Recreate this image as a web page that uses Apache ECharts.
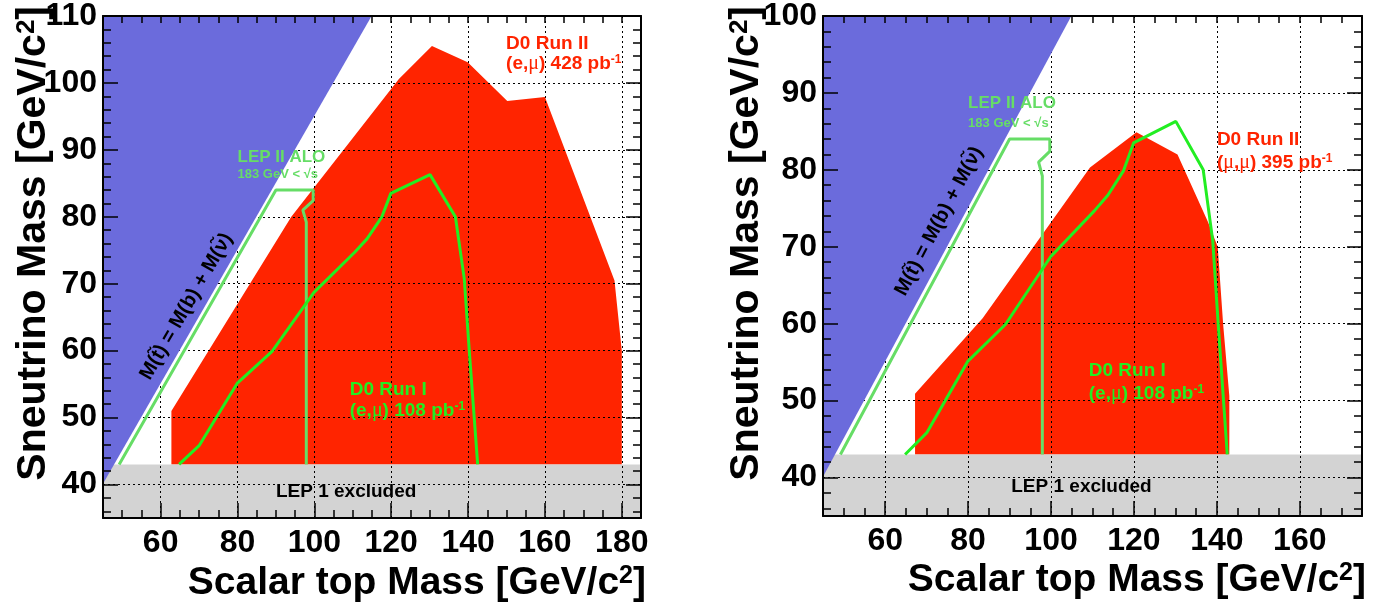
<!DOCTYPE html>
<html>
<head>
<meta charset="utf-8">
<title>Scalar top / sneutrino exclusion</title>
<script src="https://cdn.jsdelivr.net/npm/echarts@6/dist/echarts.min.js"></script>
<style>
  html, body { margin: 0; padding: 0; background: #fff; }
  #chart { width: 1382px; height: 608px; }
</style>
</head>
<body>
<div id="chart"></div>
<script>
// axis ranges per panel [left, right]
const massRange = [[45, 185], [45, 175]];
const snuRange = [[35, 110], [35, 100]];

// kinematic limit M(t) = M(b) + M(snu), forbidden region
const kinMassL = [45, 45, 114.9];
const kinSnuL = [40.1, 110, 110];
const kinMassR = [45, 45, 104.9];
const kinSnuR = [40.1, 100, 100];

// LEP 1 excluded band
const lep1Snu = [35, 43];

// D0 Run II (e,mu) 428 pb-1
const run2EmuMass = [62.8, 62.8, 94, 122, 130.6, 139.9, 150.2, 160, 178.1, 180, 180];
const run2EmuSnu = [43, 51, 80, 100.6, 105.5, 103.1, 97.3, 97.9, 70.5, 60, 43];

// D0 Run II (mu,mu) 395 pb-1
const run2MumuMass = [67.2, 67.2, 83.5, 109.4, 120.6, 130.5, 137.8, 140.2, 141.5, 143, 143];
const run2MumuSnu = [43, 50.9, 60.7, 80.3, 84.9, 82.0, 73.3, 70, 60, 50.6, 43];

// D0 Run I (e,mu) 108 pb-1
const run1Mass = [64.8, 70, 79.9, 89, 99.9, 110.5, 113.7, 117.5, 119.9, 130.1, 136.7, 139, 140.4, 142.5];
const run1Snu = [43, 45.8, 55.1, 59.9, 68.7, 74.7, 76.7, 79.9, 83.5, 86.3, 80, 70.8, 59.3, 43];

// LEP II ALO
const lep2Mass = [49.2, 90, 99.7, 99.7, 97, 97.9, 97.9];
const lep2Snu = [43, 84, 84, 82.4, 81, 79.2, 43];

const RED = '#ff2400';
const BLUE = '#6b6bdc';
const GREY = '#d3d3d3';
const LEPGREEN = '#66dd66';
const GREEN = '#22ee22';
const FONT = '"Liberation Sans", Arial, sans-serif';

const chart = echarts.init(document.getElementById('chart'));

const pairs = (xs, ys) => xs.map((x, i) => [x, ys[i]]);

function polygon(g, xs, ys, color, z) {
  return {
    type: 'custom', xAxisIndex: g * 3, yAxisIndex: g * 3, z, silent: true,
    data: [[xs[0], ys[0]]],
    renderItem: (params, api) => ({
      type: 'polygon',
      shape: { points: xs.map((x, i) => api.coord([x, ys[i]])) },
      style: { fill: color }
    })
  };
}

function line(g, xs, ys, color) {
  return {
    type: 'line', xAxisIndex: g * 3, yAxisIndex: g * 3, z: 5, silent: true,
    data: pairs(xs, ys), symbol: 'none',
    lineStyle: { color, width: 3 }
  };
}

const tickStyle = { color: '#000', width: 1.5 };
const labelStyle = { fontSize: 32, fontWeight: 'bold', fontFamily: FONT, color: '#000' };

function xAxes(g) {
  const [min, max] = massRange[g];
  const base = { type: 'value', gridIndex: g, min, max, minInterval: 20, maxInterval: 20 };
  return [
    { ...base, position: 'bottom', z: 6,
      axisLine: { onZero: false, lineStyle: { color: '#000', width: 2 } },
      axisTick: { inside: true, length: 15, lineStyle: tickStyle },
      minorTick: { show: true, splitNumber: 4, length: 8, lineStyle: tickStyle },
      axisLabel: { ...labelStyle, margin: 9, showMinLabel: false, showMaxLabel: false },
      splitLine: { show: false } },
    { ...base, position: 'top', z: 6,
      axisLine: { onZero: false, lineStyle: { color: '#000', width: 2 } },
      axisTick: { inside: true, length: 7, lineStyle: tickStyle },
      minorTick: { show: true, splitNumber: 4, length: 7, lineStyle: tickStyle },
      axisLabel: { show: false }, splitLine: { show: false } },
    { ...base, position: 'bottom', z: 3,
      axisLine: { show: false }, axisTick: { show: false }, axisLabel: { show: false },
      splitLine: { show: true, lineStyle: { color: '#000', width: 1, type: [2, 3] } } }
  ];
}

function yAxes(g) {
  const [min, max] = snuRange[g];
  const base = { type: 'value', gridIndex: g, min, max, minInterval: 10, maxInterval: 10 };
  return [
    { ...base, position: 'left', z: 6,
      axisLine: { onZero: false, lineStyle: { color: '#000', width: 2 } },
      axisTick: { inside: true, length: 15, lineStyle: tickStyle },
      minorTick: { show: true, splitNumber: 5, length: 8, lineStyle: tickStyle },
      axisLabel: { ...labelStyle, margin: 6, padding: [8, 0, 0, 0], showMinLabel: false, showMaxLabel: true },
      splitLine: { show: false } },
    { ...base, position: 'right', z: 6,
      axisLine: { onZero: false, lineStyle: { color: '#000', width: 2 } },
      axisTick: { inside: true, length: 15, lineStyle: tickStyle },
      minorTick: { show: true, splitNumber: 5, length: 8, lineStyle: tickStyle },
      axisLabel: { show: false }, splitLine: { show: false } },
    { ...base, position: 'left', z: 3,
      axisLine: { show: false }, axisTick: { show: false }, axisLabel: { show: false },
      splitLine: { show: true, lineStyle: { color: '#000', width: 1, type: [2, 3] } } }
  ];
}

function panelSeries(g, kinMass, kinSnu, run2Mass, run2Snu) {
  const [m0, m1] = massRange[g];
  return [
    polygon(g, run2Mass, run2Snu, RED, 1),
    polygon(g, [m0, m1, m1, m0], [lep1Snu[0], lep1Snu[0], lep1Snu[1], lep1Snu[1]], GREY, 1),
    polygon(g, kinMass, kinSnu, BLUE, 4),
    line(g, lep2Mass, lep2Snu, LEPGREEN),
    line(g, run1Mass, run1Snu, GREEN)
  ];
}

chart.setOption({
  animation: false,
  backgroundColor: '#fff',
  grid: [
    { left: 103, top: 15, width: 538, height: 503 },
    { left: 823, top: 14, width: 539, height: 502 }
  ],
  xAxis: [...xAxes(0), ...xAxes(1)],
  yAxis: [...yAxes(0), ...yAxes(1)],
  series: [
    ...panelSeries(0, kinMassL, kinSnuL, run2EmuMass, run2EmuSnu),
    ...panelSeries(1, kinMassR, kinSnuR, run2MumuMass, run2MumuSnu)
  ]
});

// text annotations, anchored in data coordinates (left x, baseline y)
const redRich = {
  mu: { fontFamily: '"Liberation Serif", serif', fontWeight: 'normal', fontSize: 20, color: RED },
  sup: { fontSize: 12, fontWeight: 'bold', verticalAlign: 'top', color: RED }
};
const greenRich = {
  mu: { fontFamily: '"Liberation Serif", serif', fontWeight: 'normal', fontSize: 20, color: GREEN },
  sup: { fontSize: 12, fontWeight: 'bold', verticalAlign: 'top', color: GREEN }
};

const notes = [
  { g: 0, at: [149.9, 104.9], text: 'D0 Run II', size: 19, color: RED },
  { g: 0, at: [149.9, 101.9], text: '(e,{mu|μ}) 428 pb{sup|-1}', size: 19, color: RED, rich: redRich },
  { g: 1, at: [140, 83.0], text: 'D0 Run II', size: 19, color: RED },
  { g: 1, at: [140, 80.1], text: '({mu|μ},{mu|μ}) 395 pb{sup|-1}', size: 19, color: RED, rich: redRich },
  { g: 0, at: [80, 88], text: 'LEP II ALO', size: 17, color: LEPGREEN },
  { g: 0, at: [80, 85.7], text: '183 GeV < √s', size: 13, color: LEPGREEN },
  { g: 1, at: [80, 87.9], text: 'LEP II ALO', size: 17, color: LEPGREEN },
  { g: 1, at: [80, 85.5], text: '183 GeV < √s', size: 13, color: LEPGREEN },
  { g: 0, at: [109.2, 53.1], text: 'D0 Run I', size: 19, color: GREEN },
  { g: 0, at: [109.2, 50.1], text: '(e,{mu|μ}) 108 pb{sup|-1}', size: 19, color: GREEN, rich: greenRich },
  { g: 1, at: [109.1, 53.0], text: 'D0 Run I', size: 19, color: GREEN },
  { g: 1, at: [109.1, 50.0], text: '(e,{mu|μ}) 108 pb{sup|-1}', size: 19, color: GREEN, rich: greenRich },
  { g: 0, at: [90, 37.9], text: 'LEP 1 excluded', size: 19, color: '#000' },
  { g: 1, at: [90.4, 38.0], text: 'LEP 1 excluded', size: 19, color: '#000' }
];

// kinematic limit label along the blue edge (centre, angle in degrees)
const kinLabels = [
  { g: 0, at: [66.7, 66.6], angle: 60 },
  { g: 1, at: [73, 73.3], angle: 62 }
];

const graphic = [];
notes.forEach(n => {
  const p = chart.convertToPixel({ gridIndex: n.g }, n.at);
  graphic.push({
    type: 'text', x: p[0], y: p[1] - 0.35 * n.size, z: 20, silent: true,
    style: {
      text: n.text, fill: n.color, font: `bold ${n.size}px ${FONT}`,
      align: 'left', verticalAlign: 'middle', rich: n.rich || {}
    }
  });
});
kinLabels.forEach(k => {
  const p = chart.convertToPixel({ gridIndex: k.g }, k.at);
  graphic.push({
    type: 'text', x: p[0], y: p[1], rotation: k.angle * Math.PI / 180, z: 20, silent: true,
    style: {
      text: 'M(t̃) = M(b) + M(ν̃)', fill: '#000', font: `bold 20px ${FONT}`,
      align: 'center', verticalAlign: 'middle'
    }
  });
});

// axis titles
const supX = { sup: { fontSize: 25, fontWeight: 'bold', verticalAlign: 'top' } };
const supY = { sup: { fontSize: 26, fontWeight: 'bold', verticalAlign: 'top' } };
[
  { x: 646, y: 583, rot: 0, size: 39, rich: supX, text: 'Scalar top Mass [GeV/c{sup|2}]' },
  { x: 1366, y: 580, rot: 0, size: 39, rich: supX, text: 'Scalar top Mass [GeV/c{sup|2}]' },
  { x: 34, y: 6, rot: 90, size: 41, rich: supY, text: 'Sneutrino Mass [GeV/c{sup|2}]' },
  { x: 747, y: 6, rot: 90, size: 41, rich: supY, text: 'Sneutrino Mass [GeV/c{sup|2}]' }
].forEach(t => {
  graphic.push({
    type: 'text', x: t.x, y: t.y, rotation: t.rot * Math.PI / 180, z: 20, silent: true,
    style: { text: t.text, fill: '#000', font: `bold ${t.size}px ${FONT}`, align: 'right', verticalAlign: 'middle', rich: t.rich }
  });
});

chart.setOption({ graphic });
</script>
</body>
</html>
